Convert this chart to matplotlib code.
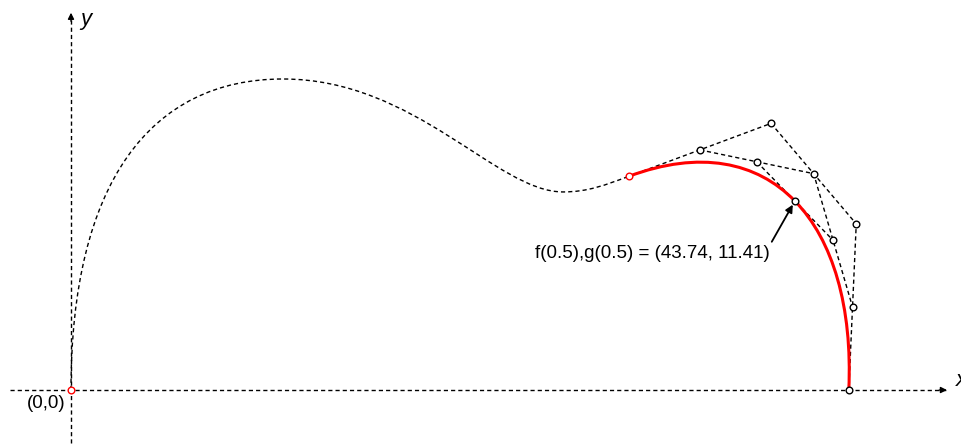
import numpy as np
import matplotlib.pyplot as plt
from matplotlib.path import Path
from matplotlib.patches import PathPatch

plt.rcParams['font.family'] = ['Liberation Sans', 'DejaVu Sans']

# dashed lead-in curve: piecewise cubic bezier (start, ctrl, ctrl, end, ctrl, ctrl, end, ...)
lead_x = [0.0, 0.0, 4.8, 12.81, 20.81, 25.73, 29.73, 31.23, 32.29, 33.7]
lead_y = [0.0, 12.5, 18.78, 18.78, 18.78, 11.96, 11.96, 11.96, 12.38, 12.9]

# control points of the red cubic segment
ctrl_x = [33.7, 42.3, 47.45, 47.0]
ctrl_y = [12.9, 16.1, 10.03, 0.0]

t_val = 0.5
mid_pt = (43.74, 11.41)

fig = plt.figure(figsize=(9.62, 4.45), dpi=100)
ax = fig.add_axes([0, 0, 1, 1])
ax.set_xlim(-4.29, 53.84)
ax.set_ylim(-3.32, 23.55)
ax.axis('off')

dash = (0, (3, 2.2))
lw = 1.0

# axes with arrows
ax.plot([-3.7, 53.0], [0, 0], color='black', lw=lw, ls=dash, zorder=1)
ax.plot([0, 0], [-3.2, 22.6], color='black', lw=lw, ls=dash, zorder=1)
ax.annotate('', xy=(53.1, 0), xytext=(52.3, 0),
            arrowprops=dict(arrowstyle='-|>', color='black', lw=lw, mutation_scale=9))
ax.annotate('', xy=(0, 22.95), xytext=(0, 22.1),
            arrowprops=dict(arrowstyle='-|>', color='black', lw=lw, mutation_scale=9))
ax.text(0.55, 22.4, 'y', fontsize=16, style='italic', va='center', ha='left')
ax.text(53.5, 0.55, 'x', fontsize=16, style='italic', va='center', ha='left')
ax.text(-0.35, -0.3, '(0,0)', fontsize=13.5, ha='right', va='top')

# lead-in curve
codes = [Path.MOVETO] + [Path.CURVE4] * (len(lead_x) - 1)
lead = Path(np.column_stack([lead_x, lead_y]), codes)
ax.add_patch(PathPatch(lead, fill=False, edgecolor='black', lw=lw, ls=dash, zorder=2))

# red bezier segment
pts = np.column_stack([ctrl_x, ctrl_y])
seg = Path(pts, [Path.MOVETO, Path.CURVE4, Path.CURVE4, Path.CURVE4])
ax.add_patch(PathPatch(seg, fill=False, edgecolor='red', lw=2.2, zorder=3))

# de Casteljau construction
ax.plot(ctrl_x, ctrl_y, color='black', lw=lw, ls=dash, zorder=2)
lvl1 = (1 - t_val) * pts[:-1] + t_val * pts[1:]
lvl2 = (1 - t_val) * lvl1[:-1] + t_val * lvl1[1:]
ax.plot(lvl1[:, 0], lvl1[:, 1], color='black', lw=lw, ls=dash, zorder=2)
ax.plot(lvl2[:, 0], lvl2[:, 1], color='black', lw=lw, ls=dash, zorder=2)

mk = dict(ls='none', marker='o', ms=4.8, mfc='white', mew=1.0, zorder=5)
ax.plot(ctrl_x[1:], ctrl_y[1:], mec='black', **mk)
ax.plot(lvl1[:, 0], lvl1[:, 1], mec='black', **mk)
ax.plot(lvl2[:, 0], lvl2[:, 1], mec='black', **mk)
ax.plot([mid_pt[0]], [mid_pt[1]], mec='black', **mk)
ax.plot([0, ctrl_x[0]], [0, ctrl_y[0]], mec='red', **mk)

ax.annotate('f(%g),g(%g) = (%.2f, %.2f)' % (t_val, t_val, mid_pt[0], mid_pt[1]),
            xy=mid_pt, xytext=(42.25, 8.27), fontsize=13.5, ha='right', va='center',
            arrowprops=dict(arrowstyle='-|>', color='black', lw=1.3, mutation_scale=11,
                            shrinkA=0, shrinkB=3,
                            relpos=(1.0, 1.0)))

fig.savefig('out.png', dpi=100)
